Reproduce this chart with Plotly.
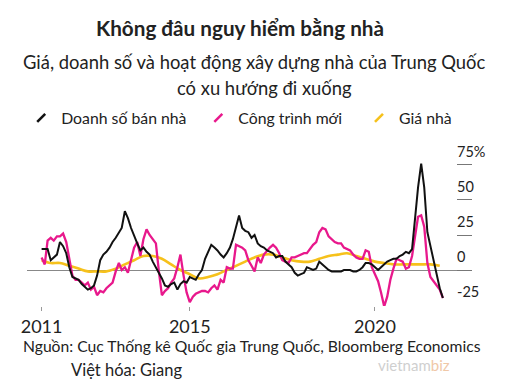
import pandas as pd
import plotly.graph_objects as go

# ---- data (monthly, Jan 2011 - Nov 2021), % y/y ----
months = pd.date_range("2011-01-01", periods=131, freq="MS")

home_sales = [15, 15, 15, 7, 9, 11, 20, 17, 12, 2, -5, -6, -7, -10, -12, -14, -13, -11, -4, 7,
              11, 13, 16, 20, 23, 27, 30, 42, 37, 30, 24, 19, 14, 16, 13, 11, 6, 2, -2, -6,
              -11, -12, -10, -9, -14, -10, -8, -9, -5, -6, -7, -3, 0, 8, 13, 18, 16, 14, 11, 9,
              12, 16, 22, 30, 39, 30, 28, 27, 23, 25, 19, 17, 16, 14, 13, 12, 9, 10, 10, 6,
              4, 2, -2, -4, -3, -2, 2, 1, 0, 1, 6, 4, 2, 0, -1, -1, -1, -1, 0, 0,
              0, -1, -1, 0, 2, 5, 5, 4, 2, 0, 2, 4, 6, 7, 8, 8, 10, 11, 13, 12,
              15, 38, 59, 76, 59, 27, 17, 7, -5, -13, -20]

new_starts = [9, 4, 21, 23, 21, 24, 24, 26, 20, 9, -4, -7, -7, -9, -11, -9, -14, -12, -18, -15,
              -16, -13, -11, -9, -1, 5, 0, 2, -2, 8, 16, 20, 10, 22, 29, 25, 22, 19, 0, -18,
              -15, -13, -9, -6, 2, 11, -4, -16, -23, -19, -17, -16, -15, -15, -16, -13, -11, -14, -7, -9,
              2, 1, 1, 18, 17, 16, 14, 7, 3, -1, 9, 5, 11, 14, 16, 18, 16, 12, 7, 6,
              5, 9, 9, 10, 11, 12, 12, 15, 18, 20, 27, 30, 29, 24, 22, 20, 19, 19, 16, 15,
              14, 11, 9, 8, 8, 14, 13, 2, -3, -8, -16, -26, -19, -7, 1, 8, 7, 6, 1, 2,
              10, 25, 38, 39, 31, 5, -5, -8, -11, -14, -20]

# home prices: quarterly readings (smooth line)
price_dates = pd.date_range("2011-01-01", periods=44, freq="3MS")
home_prices = [7, 5, 5, 3, 1, -1, -1, -1, 1, 4, 7, 10, 10, 8, 4, 0, -3, -6, -5, -3,
               0, 3, 6, 9, 11, 11, 9, 7, 6, 6, 8, 10, 11, 12, 10, 8, 6, 5, 4, 4,
               4, 4, 4, 3]

series_names = ["Doanh số bán nhà", "Công trình mới", "Giá nhà"]
series_colors = ["#111111", "#e8188c", "#f6c11b"]

x_tick_vals = ["2011-01-01", "2015-01-01", "2020-01-01"]
x_tick_text = ["2011", "2015", "2020"]
y_tick_vals = [75, 50, 25, 0, -25]
y_tick_text = ["75%", "50", "25", "0", "-25"]

FONT = "Lato"
TXT = "#222222"

fig = go.Figure()

fig.add_trace(go.Scatter(x=price_dates, y=home_prices, mode="lines", line_shape="spline",
                         line=dict(color=series_colors[2], width=2.6), showlegend=False,
                         hoverinfo="skip"))
fig.add_trace(go.Scatter(x=months, y=new_starts, mode="lines",
                         line=dict(color=series_colors[1], width=2.3), showlegend=False))
fig.add_trace(go.Scatter(x=months, y=home_sales, mode="lines",
                         line=dict(color=series_colors[0], width=2.0), showlegend=False))

# legend entries (slash symbols like the original), one legend box per entry
legend_ids = ["legend", "legend2", "legend3"]
for name, col, lid in zip(series_names, series_colors, legend_ids):
    fig.add_trace(go.Scatter(x=[None], y=[None], mode="markers", name=name, legend=lid,
                             marker=dict(symbol="line-ne", size=8,
                                         line=dict(color=col, width=2.5))))

legend_common = dict(orientation="h", y=1.205, yanchor="middle", xanchor="left",
                     font=dict(family=FONT, size=15.8, color=TXT), itemwidth=30,
                     bgcolor="rgba(0,0,0,0)")

fig.update_layout(
    width=509, height=386,
    margin=dict(l=19, r=45, t=142, b=88, autoexpand=False),
    paper_bgcolor="white", plot_bgcolor="white",
    font=dict(family=FONT, size=15, color=TXT),
    legend=dict(x=-0.013, **legend_common),
    legend2=dict(x=0.385, **legend_common),
    legend3=dict(x=0.746, **legend_common),
    xaxis=dict(type="date", range=["2010-08-10", "2022-08-15"],
               tickvals=x_tick_vals, ticktext=x_tick_text,
               ticks="outside", ticklen=4, tickcolor="#999999", tickwidth=1,
               showgrid=False, zeroline=False, showline=False,
               tickfont=dict(size=18, color=TXT)),
    yaxis=dict(side="right", range=[-25.7, 85.7],
               tickvals=y_tick_vals, ticktext=y_tick_text,
               ticks="inside", ticklen=15, tickcolor="#777777", tickwidth=1,
               ticklabelposition="outside", ticklabelstandoff=-16, ticklabelshift=-13,
               showgrid=False, zeroline=True, zerolinecolor="#888888", zerolinewidth=1,
               showline=False, tickfont=dict(size=14.5, color=TXT)),
    annotations=[
        dict(text="<b>Không đâu nguy hiểm bằng nhà</b>",
             xref="paper", yref="paper", x=0.479, xanchor="center", y=1.785, yanchor="middle",
             showarrow=False, font=dict(family=FONT, size=20.7, color=TXT)),
        dict(text="Giá, doanh số và hoạt động xây dựng nhà của Trung Quốc",
             xref="paper", yref="paper", x=0.512, xanchor="center", y=1.564, yanchor="middle",
             showarrow=False, font=dict(family=FONT, size=18.4, color=TXT)),
        dict(text="có xu hướng đi xuống",
             xref="paper", yref="paper", x=0.533, xanchor="center", y=1.397, yanchor="middle",
             showarrow=False, font=dict(family=FONT, size=18.4, color=TXT)),
        dict(text="Nguồn: Cục Thống kê Quốc gia Trung Quốc, Bloomberg Economics",
             xref="paper", yref="paper", x=-0.013, xanchor="left", y=-0.256, yanchor="middle",
             showarrow=False, font=dict(family=FONT, size=15.7, color=TXT)),
        dict(text="Việt hóa: Giang",
             xref="paper", yref="paper", x=0.095, xanchor="left", y=-0.41, yanchor="middle",
             showarrow=False, font=dict(family=FONT, size=16.5, color=TXT)),
        dict(text="vietnam<span style='color:#f0c8a8'>biz</span>",
             xref="paper", yref="paper", x=0.955, xanchor="right", y=-0.38, yanchor="middle",
             showarrow=False, font=dict(family=FONT, size=15, color="#cfcfcf")),
    ],
)

fig.write_html("out.html")
